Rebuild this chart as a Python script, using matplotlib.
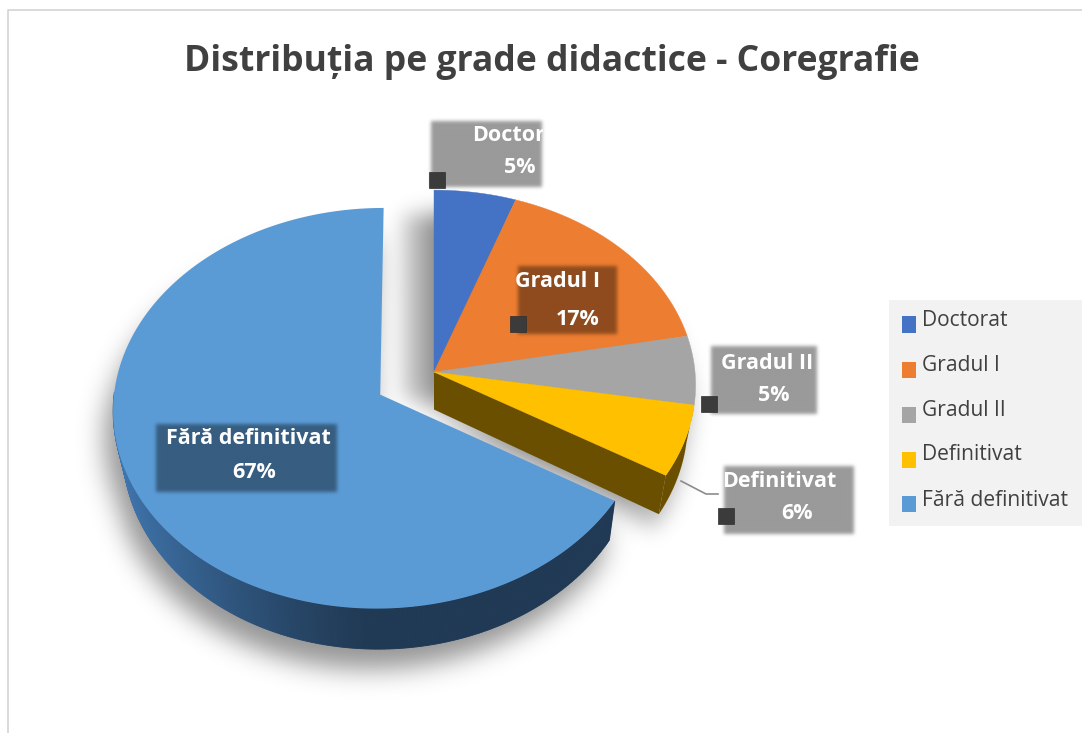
import numpy as np
import matplotlib
matplotlib.use("Agg")
import matplotlib.pyplot as plt
from matplotlib.patches import Rectangle
from matplotlib.path import Path

categories = ["Doctorat", "Gradul I", "Gradul II", "Definitivat", "Fără definitivat"]
values = [5.4, 16.6, 5.7, 5.9, 66.4]
percent_labels = ["5%", "17%", "5%", "6%", "67%"]
colors = ["#4472c4", "#ed7d31", "#a5a5a5", "#ffc000", "#5b9bd5"]
explode = [0, 0, 0, 0, 0.235]
title = "Distribuția pe grade didactice - Coregrafie"

W, H = 1082, 733
fig = plt.figure(figsize=(W / 100, H / 100), dpi=100)
ax = fig.add_axes([0, 0, 1, 1])
ax.axis("off")
FONT = "Open Sans"

ax.plot([8, 8, W], [H, 10, 10], color="#d4d4d4", lw=1.2, zorder=1)
ax.text(552, 71, title, ha="center", va="baseline", fontsize=25.6, fontweight="bold",
        color="#404040", family=FONT, zorder=20)

# pseudo 3-D projection of the pie plane
CX, CY, RX, RY, K, DEPTH, SHRINK = 434, 372, 261, 194, 0.0667, 37.5, 0.97


def project(u, v):
    f = 1 / (1 - K * v)
    return CX + u * RX * f, CY + v * RY * f, f


def lower(x, y, f):
    return CX + (x - CX) * SHRINK, y + DEPTH * f


def slice_arc(start, end, exp, r):
    mid = np.radians((start + end) / 2)
    ou, ov = exp * np.sin(mid), -exp * np.cos(mid)
    t = np.radians(np.linspace(start, end, max(int(end - start) * 2, 4)))
    return t, ou, ov, r * np.sin(t) + ou, -r * np.cos(t) + ov


edges = np.cumsum([0] + values) * 3.6
parts = []
for i in range(len(values)):
    r = 1.012 if explode[i] else 1.0
    t, ou, ov, u, v = slice_arc(edges[i], edges[i + 1], explode[i], r)
    x, y, f = project(u, v)
    x0, y0, f0 = project(ou, ov)
    parts.append(dict(t=t, x=x, y=y, f=f, x0=x0, y0=y0, f0=f0))

# raster helpers for soft shadows
gx, gy = np.meshgrid(np.arange(W) + 0.5, np.arange(H) + 0.5)
grid = np.c_[gx.ravel(), gy.ravel()]


def mask_of(polys):
    m = np.zeros((H, W))
    for px, py in polys:
        inside = Path(np.c_[px, py]).contains_points(grid).reshape(H, W)
        m = np.maximum(m, inside.astype(float))
    return m


def blur(m, s):
    fy = np.fft.fftfreq(H)[:, None]
    fx = np.fft.rfftfreq(W)[None, :]
    return np.fft.irfft2(np.fft.rfft2(m) * np.exp(-2 * (np.pi * s) ** 2 * (fx ** 2 + fy ** 2)), s=(H, W)).clip(0, 1)


def show_alpha(a, z):
    img = np.zeros((H, W, 4))
    img[..., 3] = a
    ax.imshow(img, extent=(0, W, H, 0), aspect="auto", zorder=z, interpolation="bilinear")


blue = parts[4]
bx = np.r_[blue["x0"], blue["x"]]
by = np.r_[blue["y0"], blue["y"]]
rmask = np.cos(blue["t"]) < 0.02
blx, bly = lower(blue["x"][rmask], blue["y"][rmask], blue["f"][rmask])
blue_body = (np.r_[blue["x"][rmask], blx[::-1]], np.r_[blue["y"][rmask], bly[::-1]])

gx_, gy_ = np.r_[parts[0]["x0"], np.concatenate([p["x"] for p in parts[:4]])], \
    np.r_[parts[0]["y0"], np.concatenate([p["y"] for p in parts[:4]])]
y4 = parts[3]
ylx, yly = lower(y4["x"], y4["y"], y4["f"])
clx, cly = lower(y4["x0"], y4["y0"], y4["f0"])

s_blue = mask_of([(bx - 8, by + 30), (blue_body[0] - 8, blue_body[1] + 20)])
s_blue = blur(s_blue, 13) * 0.42
s_right = mask_of([(gx_ - 6, gy_ + 22), (np.r_[clx, ylx] - 4, np.r_[cly, yly] + 14)])
s_right = blur(s_right, 11) * 0.3
s_gap = blur(mask_of([(gx_ - 30, gy_ + 24)]), 10) * 0.26
show_alpha(1 - (1 - s_blue) * (1 - s_right) * (1 - s_gap), 2)


def lerp_color(c1, c2, a):
    return tuple(np.array(c1) * (1 - a) + np.array(c2) * a)


# blue rim with gradient
L, M = (0.25, 0.46, 0.68), (0.125, 0.225, 0.33)
xr, yr = blue["x"][rmask], blue["y"][rmask]
for j in range(len(xr) - 1):
    a = min(1, max(0, (blue["x"].min() + 260 - xr[j]) / 260))
    ax.fill([xr[j], xr[j + 1], blx[j + 1], blx[j]], [yr[j], yr[j + 1], bly[j + 1], bly[j]],
            color=lerp_color(M, L, a ** 1.3), lw=0.6, zorder=3)
ax.fill(bx, by, color=colors[4], lw=0, zorder=4)

# exploded remainder: cut face and rim
BROWN = "#6a4f00"
ax.fill([y4["x0"], y4["x"][-1], ylx[-1], clx], [y4["y0"], y4["y"][-1], yly[-1], cly],
        color=BROWN, lw=0, zorder=5)
ax.fill(np.r_[y4["x"], ylx[::-1]], np.r_[y4["y"], yly[::-1]], color=BROWN, lw=0, zorder=5)
for i in range(4):
    p = parts[i]
    ax.fill(np.r_[p["x0"], p["x"]], np.r_[p["y0"], p["y"]], color=colors[i], lw=0.3, zorder=6)

ax.plot([681, 706, 718], [481, 494, 494], color="#8c8c8c", lw=1.2, zorder=7)

# label boxes
boxes = [(431, 121, 542, 187), (518, 266, 617, 334), (711, 346, 817, 414),
         (724, 466, 854, 534), (156, 424, 337, 492)]
name_xy = [(472, 141), (515, 287), (721, 369), (722, 487), (166, 444)]
pct_xy = [(519.5, 173), (578, 325), (773.5, 401), (797.5, 519), (254.5, 478)]
handles = [(437, 180), (518, 324), (709, 404), (726, 516)]

bm = np.zeros((H, W))
for b in boxes:
    bm[b[1]:b[3], b[0]:b[2]] = 1
show_alpha(blur(bm, 1.8) * 0.4, 8)

for i, b in enumerate(boxes):
    t = ax.text(name_xy[i][0], name_xy[i][1], categories[i], ha="left", va="baseline",
                fontsize=15.5, fontweight="bold", color="white", family=FONT, zorder=10)
    if i == 0:
        t.set_clip_path(Rectangle((b[0], b[1] - 3), b[2] - b[0] + 1, b[3] - b[1] + 6, transform=ax.transData))
        t.set_clip_on(True)
    ax.text(pct_xy[i][0], pct_xy[i][1], percent_labels[i], ha="center", va="baseline",
            fontsize=15.5, fontweight="bold", color="white", family=FONT, zorder=10)
for hx, hy in handles:
    ax.add_patch(Rectangle((hx - 8, hy - 8), 16, 16, fc="#3b3b3b", ec="#2e2e2e", lw=0.5, zorder=11))

# legend
ax.add_patch(Rectangle((889, 300), 193, 226, fc="#f2f2f2", ec="none", zorder=2))
swatch_y = [324, 369.5, 414.5, 459.5, 503.5]
text_y = [326, 371, 415.5, 460.5, 506]
for i, c in enumerate(categories):
    ax.add_patch(Rectangle((902, swatch_y[i] - 8), 14, 16.5, fc=colors[i], ec="none", zorder=3))
    ax.text(922, text_y[i], c, ha="left", va="baseline", fontsize=15.1, color="#404040",
            family=FONT, zorder=3)

ax.set_xlim(0, W)
ax.set_ylim(H, 0)
fig.savefig("out.png", dpi=100, facecolor="white")
